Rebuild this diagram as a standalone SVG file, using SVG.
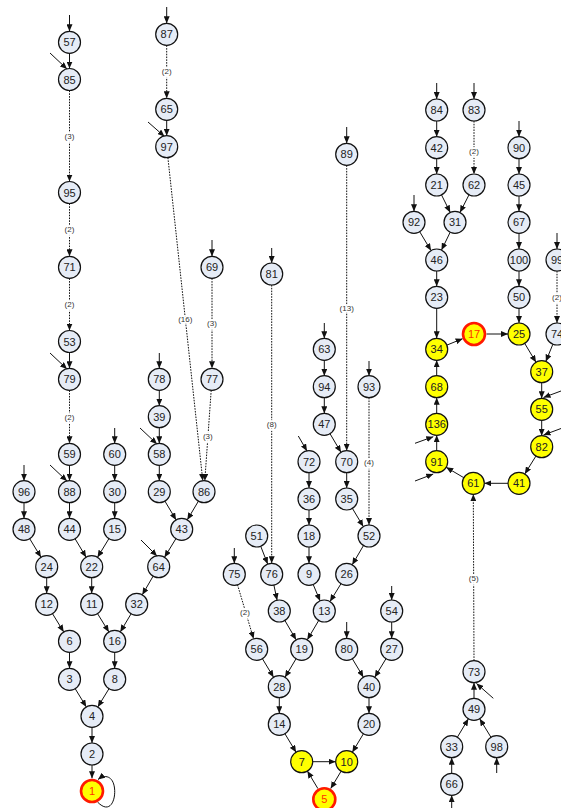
<svg xmlns="http://www.w3.org/2000/svg" width="561" height="808" viewBox="0 0 561 808">
<defs>
<marker id="ah" markerWidth="7" markerHeight="6" refX="7" refY="3" orient="auto" markerUnits="userSpaceOnUse">
<path d="M0,0 L7,3 L0,6 z" fill="#111"/>
</marker>
</defs>
<style>
.e{stroke:#111;stroke-width:1;fill:none;marker-end:url(#ah)}
.d{stroke:#111;stroke-width:1;fill:none;stroke-dasharray:1.6,1.2;marker-end:url(#ah)}
.lb{font-family:"Liberation Sans",Arial,sans-serif;font-size:8px;fill:#333;text-anchor:middle;dominant-baseline:central;stroke:#fff;stroke-width:3px;paint-order:stroke}
.n circle{fill:#e6ecf6;stroke:#111;stroke-width:1.2}
.y circle{fill:#ffff00;stroke:#111;stroke-width:1.2}
.r circle{fill:#ffff00;stroke:#ff1a00;stroke-width:2.6}
text.t{font-family:"Liberation Sans",Arial,sans-serif;font-size:11px;fill:#222;text-anchor:middle;dominant-baseline:central}
.r text.t{fill:#ff3300}
rect.bg{fill:#fff}
</style>
<rect class="bg" x="0" y="0" width="561" height="808"/>
<g id="edges">
<!-- left cluster -->
<line class="e" x1="69.5" y1="15" x2="69.5" y2="31.3"/>
<line class="e" x1="69.5" y1="53.3" x2="69.5" y2="68.5"/>
<line class="e" x1="50" y1="53" x2="67" y2="69"/>
<line class="d" x1="69.5" y1="90.5" x2="69.5" y2="181.5"/>
<line class="d" x1="69.5" y1="203.5" x2="69.5" y2="256.3"/>
<line class="d" x1="69.5" y1="278.3" x2="69.5" y2="330.5"/>
<line class="e" x1="69.5" y1="352.5" x2="69.5" y2="368.3"/>
<line class="e" x1="50" y1="353" x2="67" y2="369"/>
<line class="d" x1="69.5" y1="390.3" x2="69.5" y2="443.3"/>
<line class="e" x1="69.5" y1="465.3" x2="69.5" y2="480.7"/>
<line class="e" x1="50" y1="465" x2="67" y2="481"/>
<line class="e" x1="69.5" y1="502.7" x2="69.5" y2="518.3"/>
<line class="e" x1="24" y1="465" x2="24" y2="480.7"/>
<line class="e" x1="24" y1="502.7" x2="24" y2="518.3"/>
<line class="e" x1="29.7" y1="538.7" x2="41" y2="557.3"/>
<line class="e" x1="46.7" y1="577.7" x2="46.7" y2="593.3"/>
<line class="e" x1="52.5" y1="613.7" x2="63.7" y2="631.9"/>
<line class="e" x1="69.5" y1="652.3" x2="69.5" y2="668.3"/>
<line class="e" x1="75.2" y1="688.7" x2="86.3" y2="706.9"/>
<line class="e" x1="114.7" y1="428" x2="114.7" y2="443.3"/>
<line class="e" x1="114.7" y1="465.3" x2="114.7" y2="480.7"/>
<line class="e" x1="114.7" y1="502.7" x2="114.7" y2="518.3"/>
<line class="e" x1="75.1" y1="538.8" x2="86.1" y2="557.2"/>
<line class="e" x1="108.9" y1="538.7" x2="97.5" y2="557.3"/>
<line class="e" x1="91.7" y1="577.7" x2="91.7" y2="593.3"/>
<line class="e" x1="97.5" y1="613.6" x2="108.9" y2="632"/>
<line class="e" x1="131.1" y1="613.8" x2="120.3" y2="631.9"/>
<line class="e" x1="114.7" y1="652.3" x2="114.7" y2="668.3"/>
<line class="e" x1="109" y1="688.7" x2="97.8" y2="706.9"/>
<line class="e" x1="92" y1="727.3" x2="92" y2="743"/>
<line class="e" x1="92" y1="765" x2="92" y2="778.3"/>
<path class="e" d="M97.5,802 C110,815 116,800 114.5,788 C113,776 105,774 98,779.5"/>
<line class="e" x1="159.3" y1="353" x2="159.3" y2="368.3"/>
<line class="e" x1="159.3" y1="390.3" x2="159.3" y2="405.7"/>
<line class="e" x1="159.3" y1="427.7" x2="159.3" y2="443.3"/>
<line class="e" x1="140" y1="428" x2="157" y2="444"/>
<line class="e" x1="159.3" y1="465.3" x2="159.3" y2="480.7"/>
<line class="e" x1="164.9" y1="501.1" x2="176.1" y2="519.9"/>
<line class="e" x1="198.4" y1="501.2" x2="187.3" y2="519.8"/>
<line class="e" x1="175.9" y1="538.7" x2="164.5" y2="557.3"/>
<line class="e" x1="141" y1="540" x2="157" y2="556"/>
<line class="e" x1="153.1" y1="576.2" x2="142.3" y2="594.8"/>
<line class="e" x1="166.7" y1="7" x2="166.7" y2="23.3"/>
<line class="d" x1="166.7" y1="45.3" x2="166.7" y2="98.3"/>
<line class="e" x1="166.7" y1="120.3" x2="166.7" y2="135.7"/>
<line class="e" x1="148" y1="122" x2="164.5" y2="136.5"/>
<line class="d" x1="167.9" y1="157.6" x2="202.8" y2="480.8"/>
<line class="e" x1="212" y1="240" x2="212" y2="256.3"/>
<line class="d" x1="212" y1="278.3" x2="212" y2="368.3"/>
<line class="d" x1="211.2" y1="390.3" x2="204.8" y2="480.7"/>
<!-- middle cluster -->
<line class="e" x1="346.7" y1="127" x2="346.7" y2="143.3"/>
<line class="d" x1="346.7" y1="165.3" x2="346.7" y2="450.7"/>
<line class="e" x1="271.7" y1="248" x2="271.7" y2="263"/>
<line class="d" x1="271.7" y1="285" x2="271.7" y2="563.3"/>
<line class="e" x1="324.3" y1="323" x2="324.3" y2="338.3"/>
<line class="e" x1="324.3" y1="360.3" x2="324.3" y2="375.7"/>
<line class="e" x1="324.3" y1="397.7" x2="324.3" y2="413.3"/>
<line class="e" x1="330" y1="433.7" x2="341" y2="452.3"/>
<line class="e" x1="369" y1="361" x2="369" y2="375.7"/>
<line class="d" x1="369" y1="397.7" x2="369" y2="525"/>
<line class="e" x1="298.3" y1="436" x2="307" y2="451"/>
<line class="e" x1="309" y1="472.7" x2="309" y2="488"/>
<line class="e" x1="309" y1="510" x2="309" y2="525"/>
<line class="e" x1="309" y1="547" x2="309" y2="563.3"/>
<line class="e" x1="346.7" y1="472.7" x2="346.7" y2="488"/>
<line class="e" x1="352.4" y1="508.4" x2="363.3" y2="526.6"/>
<line class="e" x1="260.7" y1="546.2" x2="267.7" y2="564.1"/>
<line class="e" x1="363.5" y1="545.5" x2="352.2" y2="564.8"/>
<line class="e" x1="313.2" y1="584.5" x2="320.1" y2="600.9"/>
<line class="e" x1="341" y1="583.7" x2="330" y2="601.6"/>
<line class="e" x1="273.9" y1="585.1" x2="277.1" y2="600.2"/>
<line class="e" x1="284.9" y1="620.5" x2="296.1" y2="639.8"/>
<line class="e" x1="318.7" y1="620.5" x2="307.3" y2="639.8"/>
<line class="e" x1="234.3" y1="548" x2="234.3" y2="563.3"/>
<line class="d" x1="237.5" y1="584.8" x2="253.6" y2="638.8"/>
<line class="e" x1="262.4" y1="658.7" x2="273.6" y2="677.3"/>
<line class="e" x1="296.1" y1="658.7" x2="285" y2="677.3"/>
<line class="e" x1="279.3" y1="697.7" x2="279.3" y2="713.3"/>
<line class="e" x1="284.9" y1="733.7" x2="296.1" y2="752.3"/>
<line class="e" x1="312.7" y1="761.7" x2="335.7" y2="761.7"/>
<line class="e" x1="341.1" y1="771.2" x2="330.7" y2="788.6"/>
<line class="e" x1="317.9" y1="788.6" x2="307.4" y2="771.1"/>
<line class="e" x1="391.7" y1="586" x2="391.7" y2="600"/>
<line class="e" x1="391.7" y1="622" x2="391.7" y2="638.3"/>
<line class="e" x1="346.7" y1="622" x2="346.7" y2="638.3"/>
<line class="e" x1="352.3" y1="658.7" x2="363.4" y2="677.2"/>
<line class="e" x1="386" y1="658.7" x2="374.7" y2="677.3"/>
<line class="e" x1="369" y1="697.7" x2="369" y2="713.3"/>
<line class="e" x1="363.4" y1="733.8" x2="352.3" y2="752.3"/>
<!-- right cluster -->
<line class="e" x1="436.7" y1="83" x2="436.7" y2="99"/>
<line class="e" x1="474" y1="83" x2="474" y2="99"/>
<line class="e" x1="436.7" y1="121" x2="436.7" y2="136.7"/>
<line class="e" x1="436.7" y1="158.7" x2="436.7" y2="174"/>
<line class="d" x1="474" y1="121" x2="474" y2="174"/>
<line class="e" x1="441.5" y1="194.9" x2="450.2" y2="212.4"/>
<line class="e" x1="469" y1="194.8" x2="460" y2="212.5"/>
<line class="e" x1="414" y1="195" x2="414" y2="211.3"/>
<line class="e" x1="419.7" y1="231.7" x2="431" y2="250.6"/>
<line class="e" x1="450.2" y1="232.2" x2="441.5" y2="250.1"/>
<line class="e" x1="436.7" y1="271" x2="436.7" y2="286.3"/>
<line class="e" x1="436.7" y1="308.3" x2="436.7" y2="338.3"/>
<line class="e" x1="519" y1="121" x2="519" y2="136.7"/>
<line class="e" x1="519" y1="158.7" x2="519" y2="174"/>
<line class="e" x1="519" y1="196" x2="519" y2="211.3"/>
<line class="e" x1="519" y1="233.3" x2="519" y2="249"/>
<line class="e" x1="519" y1="271" x2="519" y2="286.3"/>
<line class="e" x1="519" y1="308.3" x2="519" y2="323"/>
<line class="e" x1="557" y1="233" x2="557" y2="249"/>
<line class="d" x1="557" y1="271" x2="557" y2="323"/>
<line class="e" x1="446.9" y1="345.1" x2="462.6" y2="338.7"/>
<line class="e" x1="486.5" y1="334" x2="508" y2="334"/>
<line class="e" x1="524.7" y1="343.4" x2="536" y2="362.3"/>
<line class="e" x1="552.9" y1="344.2" x2="545.8" y2="361.5"/>
<line class="e" x1="541.7" y1="382.7" x2="541.7" y2="398.3"/>
<line class="e" x1="561" y1="391" x2="543.5" y2="397.5"/>
<line class="e" x1="541.7" y1="420.3" x2="541.7" y2="435.7"/>
<line class="e" x1="561" y1="428.5" x2="543.5" y2="435"/>
<line class="e" x1="535.9" y1="456.1" x2="524.8" y2="473.9"/>
<line class="e" x1="508" y1="483.3" x2="484.3" y2="483.3"/>
<line class="e" x1="463.8" y1="477.7" x2="446.2" y2="467.3"/>
<line class="e" x1="415" y1="481" x2="433.3" y2="474"/>
<line class="e" x1="436.7" y1="450.7" x2="436.7" y2="435.3"/>
<line class="e" x1="415" y1="443.3" x2="433.3" y2="436.7"/>
<line class="e" x1="436.7" y1="413.3" x2="436.7" y2="397.7"/>
<line class="e" x1="436.7" y1="375.7" x2="436.7" y2="360.3"/>
<line class="d" x1="474" y1="660.7" x2="473.3" y2="494.3"/>
<line class="e" x1="474" y1="698.3" x2="474" y2="682.7"/>
<line class="e" x1="493.3" y1="698.3" x2="476.5" y2="683.5"/>
<line class="e" x1="457.3" y1="737.3" x2="468.4" y2="718.8"/>
<line class="e" x1="491" y1="737.3" x2="479.7" y2="718.8"/>
<line class="e" x1="451.7" y1="773.3" x2="451.7" y2="757.7"/>
<line class="e" x1="451.7" y1="808" x2="451.7" y2="795.3"/>
<line class="e" x1="496.7" y1="773" x2="496.7" y2="757.7"/>
<!-- labels -->
<text class="lb" x="69.5" y="136.7">(3)</text>
<text class="lb" x="69.5" y="229.3">(2)</text>
<text class="lb" x="69.5" y="304.3">(2)</text>
<text class="lb" x="69.5" y="417.3">(2)</text>
<text class="lb" x="166.7" y="71.7">(2)</text>
<text class="lb" x="185.3" y="319">(16)</text>
<text class="lb" x="212" y="323.3">(3)</text>
<text class="lb" x="207.8" y="436">(3)</text>
<text class="lb" x="346.7" y="308.3">(13)</text>
<text class="lb" x="271.7" y="424">(8)</text>
<text class="lb" x="369" y="462">(4)</text>
<text class="lb" x="245" y="612.3">(2)</text>
<text class="lb" x="474" y="151">(2)</text>
<text class="lb" x="557" y="297">(2)</text>
<text class="lb" x="473.7" y="578.3">(5)</text>
</g>
<g id="n57" class="n"><circle cx="69.5" cy="42.3" r="11"/><text class="t" x="69.5" y="42.3">57</text></g>
<g id="n85" class="n"><circle cx="69.5" cy="79.5" r="11"/><text class="t" x="69.5" y="79.5">85</text></g>
<g id="n95" class="n"><circle cx="69.5" cy="192.5" r="11"/><text class="t" x="69.5" y="192.5">95</text></g>
<g id="n71" class="n"><circle cx="69.5" cy="267.3" r="11"/><text class="t" x="69.5" y="267.3">71</text></g>
<g id="n53" class="n"><circle cx="69.5" cy="341.5" r="11"/><text class="t" x="69.5" y="341.5">53</text></g>
<g id="n79" class="n"><circle cx="69.5" cy="379.3" r="11"/><text class="t" x="69.5" y="379.3">79</text></g>
<g id="n59" class="n"><circle cx="69.5" cy="454.3" r="11"/><text class="t" x="69.5" y="454.3">59</text></g>
<g id="n88" class="n"><circle cx="69.5" cy="491.7" r="11"/><text class="t" x="69.5" y="491.7">88</text></g>
<g id="n44" class="n"><circle cx="69.5" cy="529.3" r="11"/><text class="t" x="69.5" y="529.3">44</text></g>
<g id="n96" class="n"><circle cx="24" cy="491.7" r="11"/><text class="t" x="24" y="491.7">96</text></g>
<g id="n48" class="n"><circle cx="24" cy="529.3" r="11"/><text class="t" x="24" y="529.3">48</text></g>
<g id="n24" class="n"><circle cx="46.7" cy="566.7" r="11"/><text class="t" x="46.7" y="566.7">24</text></g>
<g id="n12" class="n"><circle cx="46.7" cy="604.3" r="11"/><text class="t" x="46.7" y="604.3">12</text></g>
<g id="n6" class="n"><circle cx="69.5" cy="641.3" r="11"/><text class="t" x="69.5" y="641.3">6</text></g>
<g id="n3" class="n"><circle cx="69.5" cy="679.3" r="11"/><text class="t" x="69.5" y="679.3">3</text></g>
<g id="n60" class="n"><circle cx="114.7" cy="454.3" r="11"/><text class="t" x="114.7" y="454.3">60</text></g>
<g id="n30" class="n"><circle cx="114.7" cy="491.7" r="11"/><text class="t" x="114.7" y="491.7">30</text></g>
<g id="n15" class="n"><circle cx="114.7" cy="529.3" r="11"/><text class="t" x="114.7" y="529.3">15</text></g>
<g id="n22" class="n"><circle cx="91.7" cy="566.7" r="11"/><text class="t" x="91.7" y="566.7">22</text></g>
<g id="n11" class="n"><circle cx="91.7" cy="604.3" r="11"/><text class="t" x="91.7" y="604.3">11</text></g>
<g id="n16" class="n"><circle cx="114.7" cy="641.3" r="11"/><text class="t" x="114.7" y="641.3">16</text></g>
<g id="n8" class="n"><circle cx="114.7" cy="679.3" r="11"/><text class="t" x="114.7" y="679.3">8</text></g>
<g id="n4" class="n"><circle cx="92" cy="716.3" r="11"/><text class="t" x="92" y="716.3">4</text></g>
<g id="n2" class="n"><circle cx="92" cy="754" r="11"/><text class="t" x="92" y="754">2</text></g>
<g id="n1" class="r"><circle cx="92" cy="791" r="11"/><text class="t" x="92" y="791">1</text></g>
<g id="n78" class="n"><circle cx="159.3" cy="379.3" r="11"/><text class="t" x="159.3" y="379.3">78</text></g>
<g id="n39" class="n"><circle cx="159.3" cy="416.7" r="11"/><text class="t" x="159.3" y="416.7">39</text></g>
<g id="n58" class="n"><circle cx="159.3" cy="454.3" r="11"/><text class="t" x="159.3" y="454.3">58</text></g>
<g id="n29" class="n"><circle cx="159.3" cy="491.7" r="11"/><text class="t" x="159.3" y="491.7">29</text></g>
<g id="n86" class="n"><circle cx="204" cy="491.7" r="11"/><text class="t" x="204" y="491.7">86</text></g>
<g id="n43" class="n"><circle cx="181.7" cy="529.3" r="11"/><text class="t" x="181.7" y="529.3">43</text></g>
<g id="n64" class="n"><circle cx="158.7" cy="566.7" r="11"/><text class="t" x="158.7" y="566.7">64</text></g>
<g id="n32" class="n"><circle cx="136.7" cy="604.3" r="11"/><text class="t" x="136.7" y="604.3">32</text></g>
<g id="n87" class="n"><circle cx="166.7" cy="34.3" r="11"/><text class="t" x="166.7" y="34.3">87</text></g>
<g id="n65" class="n"><circle cx="166.7" cy="109.3" r="11"/><text class="t" x="166.7" y="109.3">65</text></g>
<g id="n97" class="n"><circle cx="166.7" cy="146.7" r="11"/><text class="t" x="166.7" y="146.7">97</text></g>
<g id="n69" class="n"><circle cx="212" cy="267.3" r="11"/><text class="t" x="212" y="267.3">69</text></g>
<g id="n77" class="n"><circle cx="212" cy="379.3" r="11"/><text class="t" x="212" y="379.3">77</text></g>
<g id="n89" class="n"><circle cx="346.7" cy="154.3" r="11"/><text class="t" x="346.7" y="154.3">89</text></g>
<g id="n81" class="n"><circle cx="271.7" cy="274" r="11"/><text class="t" x="271.7" y="274">81</text></g>
<g id="n63" class="n"><circle cx="324.3" cy="349.3" r="11"/><text class="t" x="324.3" y="349.3">63</text></g>
<g id="n94" class="n"><circle cx="324.3" cy="386.7" r="11"/><text class="t" x="324.3" y="386.7">94</text></g>
<g id="n93" class="n"><circle cx="369" cy="386.7" r="11"/><text class="t" x="369" y="386.7">93</text></g>
<g id="n47" class="n"><circle cx="324.3" cy="424.3" r="11"/><text class="t" x="324.3" y="424.3">47</text></g>
<g id="n72" class="n"><circle cx="309" cy="461.7" r="11"/><text class="t" x="309" y="461.7">72</text></g>
<g id="n70" class="n"><circle cx="346.7" cy="461.7" r="11"/><text class="t" x="346.7" y="461.7">70</text></g>
<g id="n36" class="n"><circle cx="309" cy="499" r="11"/><text class="t" x="309" y="499">36</text></g>
<g id="n35" class="n"><circle cx="346.7" cy="499" r="11"/><text class="t" x="346.7" y="499">35</text></g>
<g id="n51" class="n"><circle cx="256.7" cy="536" r="11"/><text class="t" x="256.7" y="536">51</text></g>
<g id="n18" class="n"><circle cx="309" cy="536" r="11"/><text class="t" x="309" y="536">18</text></g>
<g id="n52" class="n"><circle cx="369" cy="536" r="11"/><text class="t" x="369" y="536">52</text></g>
<g id="n75" class="n"><circle cx="234.3" cy="574.3" r="11"/><text class="t" x="234.3" y="574.3">75</text></g>
<g id="n76" class="n"><circle cx="271.7" cy="574.3" r="11"/><text class="t" x="271.7" y="574.3">76</text></g>
<g id="n9" class="n"><circle cx="309" cy="574.3" r="11"/><text class="t" x="309" y="574.3">9</text></g>
<g id="n26" class="n"><circle cx="346.7" cy="574.3" r="11"/><text class="t" x="346.7" y="574.3">26</text></g>
<g id="n38" class="n"><circle cx="279.3" cy="611" r="11"/><text class="t" x="279.3" y="611">38</text></g>
<g id="n13" class="n"><circle cx="324.3" cy="611" r="11"/><text class="t" x="324.3" y="611">13</text></g>
<g id="n54" class="n"><circle cx="391.7" cy="611" r="11"/><text class="t" x="391.7" y="611">54</text></g>
<g id="n56" class="n"><circle cx="256.7" cy="649.3" r="11"/><text class="t" x="256.7" y="649.3">56</text></g>
<g id="n19" class="n"><circle cx="301.7" cy="649.3" r="11"/><text class="t" x="301.7" y="649.3">19</text></g>
<g id="n80" class="n"><circle cx="346.7" cy="649.3" r="11"/><text class="t" x="346.7" y="649.3">80</text></g>
<g id="n27" class="n"><circle cx="391.7" cy="649.3" r="11"/><text class="t" x="391.7" y="649.3">27</text></g>
<g id="n28" class="n"><circle cx="279.3" cy="686.7" r="11"/><text class="t" x="279.3" y="686.7">28</text></g>
<g id="n40" class="n"><circle cx="369" cy="686.7" r="11"/><text class="t" x="369" y="686.7">40</text></g>
<g id="n14" class="n"><circle cx="279.3" cy="724.3" r="11"/><text class="t" x="279.3" y="724.3">14</text></g>
<g id="n20" class="n"><circle cx="369" cy="724.3" r="11"/><text class="t" x="369" y="724.3">20</text></g>
<g id="n7" class="y"><circle cx="301.7" cy="761.7" r="11"/><text class="t" x="301.7" y="761.7">7</text></g>
<g id="n10" class="y"><circle cx="346.7" cy="761.7" r="11"/><text class="t" x="346.7" y="761.7">10</text></g>
<g id="n5" class="r"><circle cx="324.3" cy="799.3" r="11"/><text class="t" x="324.3" y="799.3">5</text></g>
<g id="n84" class="n"><circle cx="436.7" cy="110" r="11"/><text class="t" x="436.7" y="110">84</text></g>
<g id="n83" class="n"><circle cx="474" cy="110" r="11"/><text class="t" x="474" y="110">83</text></g>
<g id="n42" class="n"><circle cx="436.7" cy="147.7" r="11"/><text class="t" x="436.7" y="147.7">42</text></g>
<g id="n90" class="n"><circle cx="519" cy="147.7" r="11"/><text class="t" x="519" y="147.7">90</text></g>
<g id="n21" class="n"><circle cx="436.7" cy="185" r="11"/><text class="t" x="436.7" y="185">21</text></g>
<g id="n62" class="n"><circle cx="474" cy="185" r="11"/><text class="t" x="474" y="185">62</text></g>
<g id="n45" class="n"><circle cx="519" cy="185" r="11"/><text class="t" x="519" y="185">45</text></g>
<g id="n92" class="n"><circle cx="414" cy="222.3" r="11"/><text class="t" x="414" y="222.3">92</text></g>
<g id="n31" class="n"><circle cx="455" cy="222.3" r="11"/><text class="t" x="455" y="222.3">31</text></g>
<g id="n67" class="n"><circle cx="519" cy="222.3" r="11"/><text class="t" x="519" y="222.3">67</text></g>
<g id="n46" class="n"><circle cx="436.7" cy="260" r="11"/><text class="t" x="436.7" y="260">46</text></g>
<g id="n100" class="n"><circle cx="519" cy="260" r="11"/><text class="t" x="519" y="260">100</text></g>
<g id="n99" class="n"><circle cx="557" cy="260" r="11"/><text class="t" x="557" y="260">99</text></g>
<g id="n23" class="n"><circle cx="436.7" cy="297.3" r="11"/><text class="t" x="436.7" y="297.3">23</text></g>
<g id="n50" class="n"><circle cx="519" cy="297.3" r="11"/><text class="t" x="519" y="297.3">50</text></g>
<g id="n17" class="r"><circle cx="474" cy="334" r="11"/><text class="t" x="474" y="334">17</text></g>
<g id="n25" class="y"><circle cx="519" cy="334" r="11"/><text class="t" x="519" y="334">25</text></g>
<g id="n74" class="n"><circle cx="557" cy="334" r="11"/><text class="t" x="557" y="334">74</text></g>
<g id="n34" class="y"><circle cx="436.7" cy="349.3" r="11"/><text class="t" x="436.7" y="349.3">34</text></g>
<g id="n37" class="y"><circle cx="541.7" cy="371.7" r="11"/><text class="t" x="541.7" y="371.7">37</text></g>
<g id="n68" class="y"><circle cx="436.7" cy="386.7" r="11"/><text class="t" x="436.7" y="386.7">68</text></g>
<g id="n55" class="y"><circle cx="541.7" cy="409.3" r="11"/><text class="t" x="541.7" y="409.3">55</text></g>
<g id="n136" class="y"><circle cx="436.7" cy="424.3" r="11"/><text class="t" x="436.7" y="424.3">136</text></g>
<g id="n82" class="y"><circle cx="541.7" cy="446.7" r="11"/><text class="t" x="541.7" y="446.7">82</text></g>
<g id="n91" class="y"><circle cx="436.7" cy="461.7" r="11"/><text class="t" x="436.7" y="461.7">91</text></g>
<g id="n61" class="y"><circle cx="473.3" cy="483.3" r="11"/><text class="t" x="473.3" y="483.3">61</text></g>
<g id="n41" class="y"><circle cx="519" cy="483.3" r="11"/><text class="t" x="519" y="483.3">41</text></g>
<g id="n73" class="n"><circle cx="474" cy="671.7" r="11"/><text class="t" x="474" y="671.7">73</text></g>
<g id="n49" class="n"><circle cx="474" cy="709.3" r="11"/><text class="t" x="474" y="709.3">49</text></g>
<g id="n33" class="n"><circle cx="451.7" cy="746.7" r="11"/><text class="t" x="451.7" y="746.7">33</text></g>
<g id="n98" class="n"><circle cx="496.7" cy="746.7" r="11"/><text class="t" x="496.7" y="746.7">98</text></g>
<g id="n66" class="n"><circle cx="451.7" cy="784.3" r="11"/><text class="t" x="451.7" y="784.3">66</text></g>
</svg>
